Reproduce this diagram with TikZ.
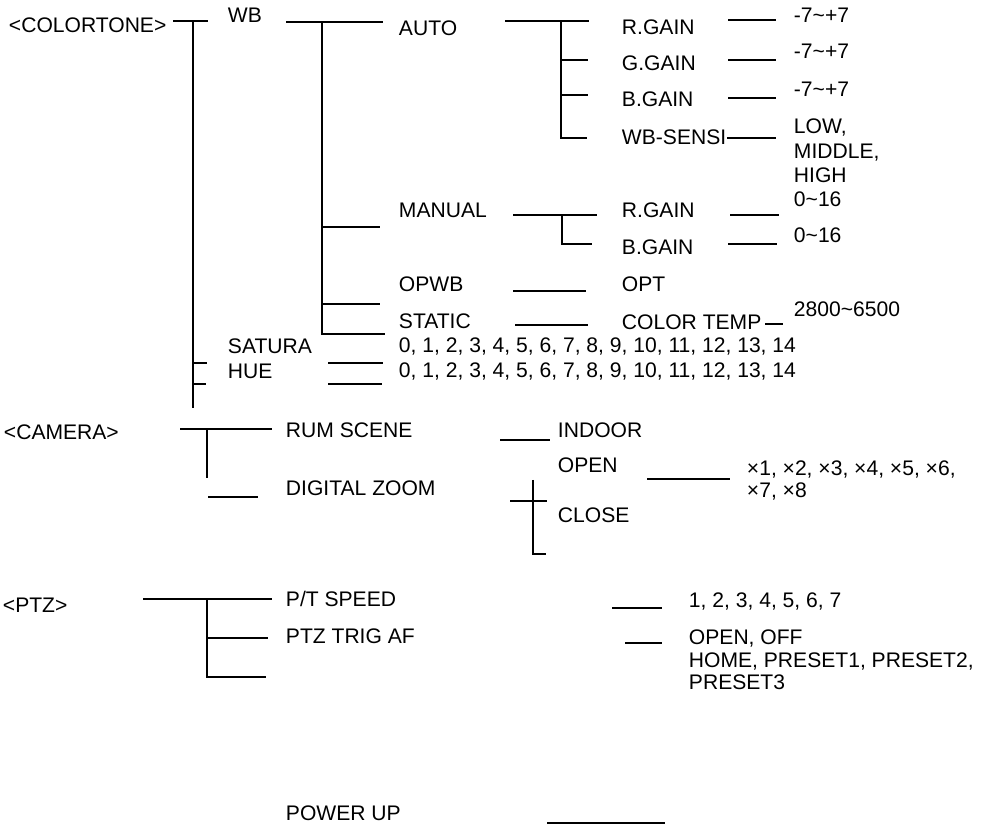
\documentclass[tikz,border=0pt]{standalone}
\usepackage{fontspec}
\setmainfont{Liberation Sans}
\usetikzlibrary{positioning}
\newcommand{\tld}{\textasciitilde}

\begin{document}
\begin{tikzpicture}[x=0.02cm, y=-0.02cm, line width=1.1pt,
    font=\fontsize{12}{13.5}\selectfont,
    item/.style={anchor=base west, inner sep=0pt},
    block/.style={anchor=north west, inner sep=0pt, align=left}]
    \useasboundingbox (0,0) rectangle (991,827);
    % menu texts
    \foreach \n/\x/\y/\t in {
        colortone/8/33/<COLORTONE>, wb/227/23/WB, auto/398/36/AUTO,
        rgain/621/35/R.GAIN, ggain/621/71/G.GAIN, bgain/621/107/B.GAIN,
        sensi/621/145/WB-SENSI,
        rval/793/23/-7\tld+7, gval/793/59/-7\tld+7, bval/793/97/-7\tld+7,
        manual/398/218/MANUAL, mrgain/621/218/R.GAIN, mbgain/621/255/B.GAIN,
        mrval/793/207/0\tld16, mbval/793/243/0\tld16,
        opwb/398/292/OPWB, opt/621/292/OPT,
        static/398/329/STATIC, ctemp/621/330/COLOR TEMP, cval/793/317/2800\tld6500,
        satura/227/354/SATURA, hue/227/379/HUE,
        camera/3/440/<CAMERA>, scene/285/438/RUM SCENE, indoor/557/438/INDOOR,
        dzoom/285/496/DIGITAL ZOOM, open/557/473/OPEN, close/557/522/CLOSE,
        ptz/2/612/<PTZ>, trig/285/643/PTZ TRIG AF,
        power/285/820/POWER UP}
      \node[item] (\n) at (\x,\y) {\t};
    \node[item] (ptspeed) at (285,606) {P/T SPEED};
    \node[item] (satval) at (398,353) {0, 1, 2, 3, 4, 5, 6, 7, 8, 9, 10, 11, 12, 13, 14};
    \node[item] (hueval) at (398,378) {0, 1, 2, 3, 4, 5, 6, 7, 8, 9, 10, 11, 12, 13, 14};
    \node[item] (speedval) at (688,607) {1, 2, 3, 4, 5, 6, 7};
    \node[item] (trigval) at (688,644) {OPEN, OFF};
    \node[block, font=\fontsize{12}{14}\selectfont] (sensival) at (793,118) {LOW,\\MIDDLE,\\HIGH};
    \node[block, font=\fontsize{12}{12.6}\selectfont] (zoomval) at (746,460) {×1, ×2, ×3, ×4, ×5, ×6,\\ ×7, ×8};
    \node[block, font=\fontsize{12}{12.6}\selectfont] (homeval) at (688,652) {HOME, PRESET1, PRESET2,\\PRESET3};
    % tree lines
    \draw (173,21) -- (208,21);
    \draw (193,21) -- (193,408);
    \draw (286,22) -- (383,22);
    \draw (322,22) -- (322,334) -- (385,334);
    \draw (505,21) -- (589,21);
    \draw (561,21) -- (561,138) -- (587,138);
    \draw (513,215) -- (597,215);
    \draw (562,215) -- (562,244) -- (592,244);
    \draw (180,429) -- (272,429);
    \draw (207,429) -- (207,478);
    \draw (510,501) -- (547,501);
    \draw (533,480) -- (533,554) -- (546,554);
    \draw (143,599) -- (272,599);
    \draw (207,599) -- (207,677) -- (266,677);
    \foreach \a/\b/\c in {
        193/207/363, 193/206/384, 322/380/227, 322/380/304,
        561/588/60, 561/588/95,
        728/776/20, 728/776/60, 728/776/98, 727/776/138,
        730/779/215, 728/777/244, 513/586/291, 515/588/325, 765/783/324,
        328/383/363, 328/382/384,
        208/258/497, 500/550/440, 647/730/479,
        207/268/638, 612/662/608, 625/662/643, 547/665/823}
      \draw (\a,\c) -- (\b,\c);
  \end{tikzpicture}
\end{document}
